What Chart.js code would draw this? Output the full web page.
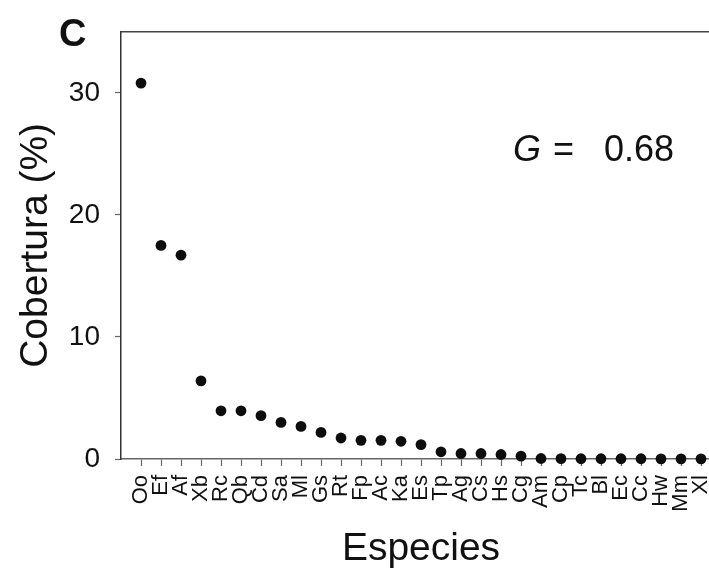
<!DOCTYPE html>
<html>
<head>
<meta charset="utf-8">
<script src="https://cdn.jsdelivr.net/npm/chart.js@4"></script>
<style>
  html, body { margin: 0; padding: 0; background: #fff; overflow: hidden; width: 709px; height: 569px; }
  #wrap { position: relative; width: 741px; height: 569px; }
</style>
</head>
<body>
<div id="wrap"><canvas id="c" width="741" height="569"></canvas></div>
<script>
// Species codes, ordered by decreasing cover
const species = ['Oo','Ef','Af','Xb','Rc','Qb','Cd','Sa','Ml','Gs','Rt','Fp','Ac','Ka','Es',
                 'Tp','Ag','Cs','Hs','Cg','Am','Cp','Tc','Bl','Ec','Cc','Hw','Mm','Xl'];
// Cover (%) per species
const cobertura = [30.8, 17.5, 16.7, 6.4, 3.95, 3.95, 3.55, 3.0, 2.67, 2.18, 1.72, 1.53, 1.53, 1.45, 1.18,
                   0.59, 0.45, 0.45, 0.37, 0.23, 0.04, 0.03, 0.02, 0.02, 0.02, 0.02, 0.01, 0.01, 0.01];
const yTicks = [0, 10, 20, 30];
const yMax = 35;
const panelLabel = 'C';
const giniSymbol = 'G';
const giniValue = '0.68';

const FONT = '"Liberation Sans", Arial, Helvetica, sans-serif';
Chart.defaults.font.family = FONT;
Chart.defaults.color = '#111';

// Top frame line, panel letter and the Gini coefficient
const frameAndText = {
  id: 'frameAndText',
  afterDraw(chart) {
    const { ctx, chartArea: a } = chart;
    ctx.save();
    ctx.strokeStyle = '#444';
    ctx.lineWidth = 1.5;
    ctx.beginPath();
    ctx.moveTo(a.left, a.top);
    ctx.lineTo(a.right, a.top);
    ctx.stroke();

    ctx.fillStyle = '#111';
    ctx.textBaseline = 'alphabetic';
    ctx.textAlign = 'left';
    ctx.font = 'bold 38px ' + FONT;
    ctx.fillText(panelLabel, 59, 46);

    ctx.font = 'italic 36px ' + FONT;
    ctx.fillText(giniSymbol, 513, 161);
    ctx.font = '36px ' + FONT;
    ctx.fillText('=', 553, 161);
    ctx.fillText(giniValue, 604, 161);
    ctx.restore();
  }
};

new Chart(document.getElementById('c'), {
  type: 'scatter',
  data: {
    datasets: [{
      data: species.map((s, i) => ({ x: i + 1, y: cobertura[i] })),
      pointRadius: 5.4,
      pointHoverRadius: 5.4,
      pointBackgroundColor: '#0d0d0d',
      pointBorderWidth: 0,
      clip: false
    }]
  },
  options: {
    responsive: false,
    animation: false,
    layout: { padding: { left: 0, top: 30, right: 20, bottom: 0 } },
    plugins: { legend: { display: false }, tooltip: { enabled: false } },
    scales: {
      x: {
        type: 'linear',
        min: 0,
        max: species.length + 1,
        afterBuildTicks: s => { s.ticks = species.map((_, i) => ({ value: i + 1 })); },
        afterFit: s => { s.height = 110; },
        ticks: {
          autoSkip: false,
          minRotation: 90,
          maxRotation: 90,
          padding: 9,
          color: '#111',
          font: { size: 22 },
          callback: v => species[v - 1] ?? ''
        },
        grid: { drawOnChartArea: false, drawTicks: true, tickLength: 7, tickColor: '#666', tickWidth: 1.2 },
        border: { display: true, color: '#666', width: 1.5 },
        title: {
          display: true, text: 'Especies', color: '#111',
          font: { size: 39, lineHeight: 1 }, padding: { top: 0, bottom: 0 }
        }
      },
      y: {
        min: 0,
        max: yMax,
        afterBuildTicks: s => { s.ticks = yTicks.map(v => ({ value: v })); },
        afterFit: s => { s.width = 121; },
        ticks: { padding: 15, color: '#111', font: { size: 28 } },
        grid: { drawOnChartArea: false, drawTicks: true, tickLength: 6, tickColor: '#666', tickWidth: 1.2 },
        border: { display: true, color: '#333', width: 1.5 },
        title: {
          display: true, text: 'Cobertura (%)', color: '#111',
          font: { size: 39, lineHeight: 1 }, padding: { top: 16.5, bottom: 0 }
        }
      }
    }
  },
  plugins: [frameAndText]
});
</script>
</body>
</html>
